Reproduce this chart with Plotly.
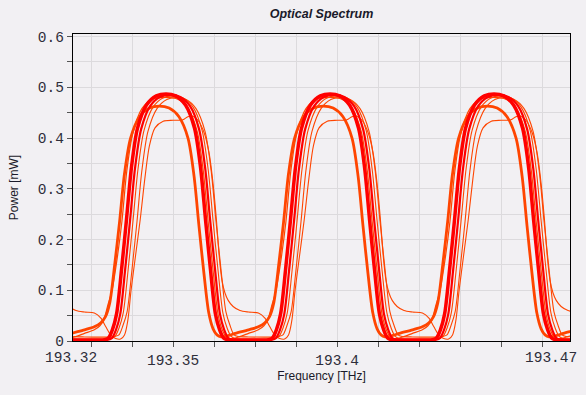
import plotly.graph_objects as go

# ---- data ----
# channel centres in THz (50 GHz grid); each curve's shape repeats per channel
channel_centers = [193.298, 193.348, 193.398, 193.448, 193.498]

# one-period profiles: offset from channel centre in GHz, power in mW
o5_off = [-25, -22, -20, -18.5, -17, -15.5, -14, -12.8, -11.8, -10.8, -9.4, -8.0, -6.6, -5.2, -3.5, -1, 2, 5, 6.5, 8, 9.6, 11.5, 13.0, 14.2, 15.2, 16.1, 16.9, 17.8, 18.8, 20.3, 22.4]
o5_pow = [0.057, 0.055, 0.045, 0.028, 0.012, 0.005, 0.004, 0.012, 0.04, 0.10, 0.17, 0.24, 0.32, 0.385, 0.42, 0.433, 0.435, 0.436, 0.442, 0.443, 0.435, 0.41, 0.37, 0.31, 0.24, 0.165, 0.12, 0.095, 0.08, 0.068, 0.06]

o4_off = [-25, -17, -15.7, -14.5, -13.3, -12.0, -10.5, -9.0, -7.5, -5.65, -2.9, 0.1, 3.05, 6.0, 9.0, 11.75, 13.6, 15.1, 16.6, 18.1, 19.4, 20.6, 21.8]
o4_pow = [0.008, 0.008, 0.009, 0.012, 0.03, 0.058, 0.142, 0.235, 0.336, 0.413, 0.458, 0.476, 0.48, 0.476, 0.458, 0.413, 0.336, 0.235, 0.142, 0.058, 0.03, 0.012, 0.009]

o3_off = [-25, -19, -16.9, -15.7, -14.5, -13.2, -11.7, -10.2, -8.7, -6.85, -4.1, -1.1, 2.0, 5.1, 8.1, 10.85, 12.7, 14.2, 15.7, 17.2, 18.5, 19.7, 20.9]
o3_pow = [0.004, 0.004, 0.005, 0.009, 0.025, 0.055, 0.14, 0.237, 0.338, 0.415, 0.461, 0.479, 0.483, 0.479, 0.461, 0.415, 0.338, 0.237, 0.14, 0.055, 0.025, 0.009, 0.005]

c2_off = [-25, -22, -20.3, -19.1, -17.9, -16.6, -15.1, -13.6, -12.1, -10.25, -7.5, -4.5, -0.45, 3.6, 6.6, 9.35, 11.2, 12.7, 14.2, 15.7, 17.0, 18.2, 19.8, 22]
c2_pow = [0.015, 0.022, 0.03, 0.042, 0.07, 0.10, 0.16, 0.235, 0.335, 0.41, 0.458, 0.476, 0.48, 0.476, 0.458, 0.413, 0.336, 0.235, 0.139, 0.053, 0.022, 0.008, 0.004, 0.008]

c1_off = [-25, -22, -20, -18.6, -17.3, -15.8, -14.3, -12.8, -10.95, -8.2, -5.2, -2.2, 0.8, 3.8, 6.55, 8.4, 9.9, 11.4, 12.9, 14.2, 15.4, 16.6, 19, 21]
c1_pow = [0.022, 0.028, 0.036, 0.048, 0.075, 0.15, 0.235, 0.33, 0.40, 0.442, 0.459, 0.463, 0.459, 0.442, 0.40, 0.325, 0.227, 0.134, 0.055, 0.024, 0.012, 0.008, 0.011, 0.015]

r2_off = [-25, -21, -17.8, -16.6, -15.4, -14.1, -12.6, -11.1, -9.6, -7.75, -5.0, -2.0, 1.1, 4.2, 7.2, 9.95, 11.8, 13.3, 14.8, 16.3, 17.6, 18.8, 20.0, 23]
r2_pow = [0.002, 0.002, 0.0024, 0.006, 0.022, 0.053, 0.141, 0.238, 0.34, 0.417, 0.463, 0.481, 0.485, 0.481, 0.463, 0.417, 0.34, 0.238, 0.141, 0.053, 0.022, 0.006, 0.0024, 0.002]

r1_off = [-25, -22, -18.9, -17.7, -16.5, -15.2, -13.7, -12.2, -10.7, -8.85, -6.1, -3.1, -0.15, 2.8, 5.8, 8.55, 10.4, 11.9, 13.4, 14.9, 16.2, 17.4, 18.6, 22]
r1_pow = [0.002, 0.002, 0.0025, 0.006, 0.022, 0.054, 0.141, 0.239, 0.341, 0.419, 0.465, 0.483, 0.487, 0.483, 0.465, 0.419, 0.341, 0.239, 0.141, 0.054, 0.022, 0.006, 0.0025, 0.002]

y_tick_vals = [0, 0.05, 0.1, 0.15, 0.2, 0.25, 0.3, 0.35, 0.4, 0.45, 0.5, 0.55, 0.6]
y_tick_text = ["0", "", "0.1", "", "0.2", "", "0.3", "", "0.4", "", "0.5", "", "0.6"]
x_tick_vals = [193.325, 193.3375, 193.35, 193.3625, 193.375, 193.3875, 193.4, 193.4125, 193.425, 193.4375, 193.45, 193.4625]
x_tick_text = ["", "", "193.35", "", "", "", "193.4", "", "", "", "", ""]
x_end_labels = ["193.32", "193.47"]

RED = "#ff0000"
ORANGE = "#ff4500"

curves = [
    (o5_off, o5_pow, ORANGE, 1.1),
    (o4_off, o4_pow, ORANGE, 1.1),
    (o3_off, o3_pow, ORANGE, 1.1),
    (c2_off, c2_pow, ORANGE, 1.2),
    (c1_off, c1_pow, ORANGE, 2.8),
    (r2_off, r2_pow, RED, 2.2),
    (r1_off, r1_pow, RED, 3.5),
]


def tile(offs, pows):
    xs, ys = [], []
    for c in channel_centers:
        for o, p in zip(offs, pows):
            xs.append(c + o / 1000.0)
            ys.append(p)
    return xs, ys


fig = go.Figure()
for offs, pows, col, w in curves:
    xs, ys = tile(offs, pows)
    fig.add_trace(go.Scatter(x=xs, y=ys, mode="lines",
                             line=dict(color=col, width=w, shape="spline", smoothing=0.8),
                             showlegend=False, hoverinfo="skip"))

BG = "#f2f0f3"
GRID = "#dcdadd"
TICKFONT = dict(family="Liberation Mono", size=14.5, color="#2e2e3a")

fig.update_layout(
    width=586, height=395,
    margin=dict(l=73, r=16, t=34, b=54),
    paper_bgcolor=BG, plot_bgcolor=BG,
    title=dict(text="Optical Spectrum", x=(321.5 / 586), xanchor="center",
               y=1 - 14 / 395, yanchor="middle",
               font=dict(family="Liberation Sans", size=12.5, color="#1a1a2a",
                         weight="bold", style="italic")),
    showlegend=False,
)
fig.update_xaxes(
    range=[193.3195, 193.471],
    tickvals=x_tick_vals, ticktext=x_tick_text,
    ticks="outside", ticklen=5, tickcolor="#555555",
    tickfont=TICKFONT,
    showgrid=True, gridcolor=GRID, gridwidth=1,
    showline=True, linecolor="black", linewidth=1.3, mirror=True,
    zeroline=False,
    title=dict(text="Frequency [THz]", font=dict(family="Liberation Sans", size=12, color="#1a1a2a"), standoff=2),
)
fig.update_yaxes(
    range=[0, 0.605],
    tickvals=y_tick_vals, ticktext=y_tick_text,
    ticks="outside", ticklen=5, tickcolor="#555555",
    tickfont=TICKFONT,
    showgrid=True, gridcolor=GRID, gridwidth=1,
    showline=True, linecolor="black", linewidth=1.3, mirror=True,
    zeroline=False,
    title=dict(text="Power [mW]", font=dict(family="Liberation Sans", size=12, color="#1a1a2a"), standoff=16),
)

# end labels of the frequency axis (shifted inward like the reference)
fig.add_annotation(text=x_end_labels[0], xref="paper", yref="paper",
                   x=(70.5 - 73) / 497, y=0, xanchor="center", yanchor="top", yshift=-7,
                   showarrow=False, font=TICKFONT)
fig.add_annotation(text=x_end_labels[1], xref="paper", yref="paper",
                   x=(551 - 73) / 497, y=0, xanchor="center", yanchor="top", yshift=-7,
                   showarrow=False, font=TICKFONT)

fig.write_html("out.html", config={"displayModeBar": False},
               post_script="document.body.style.margin='0';")
